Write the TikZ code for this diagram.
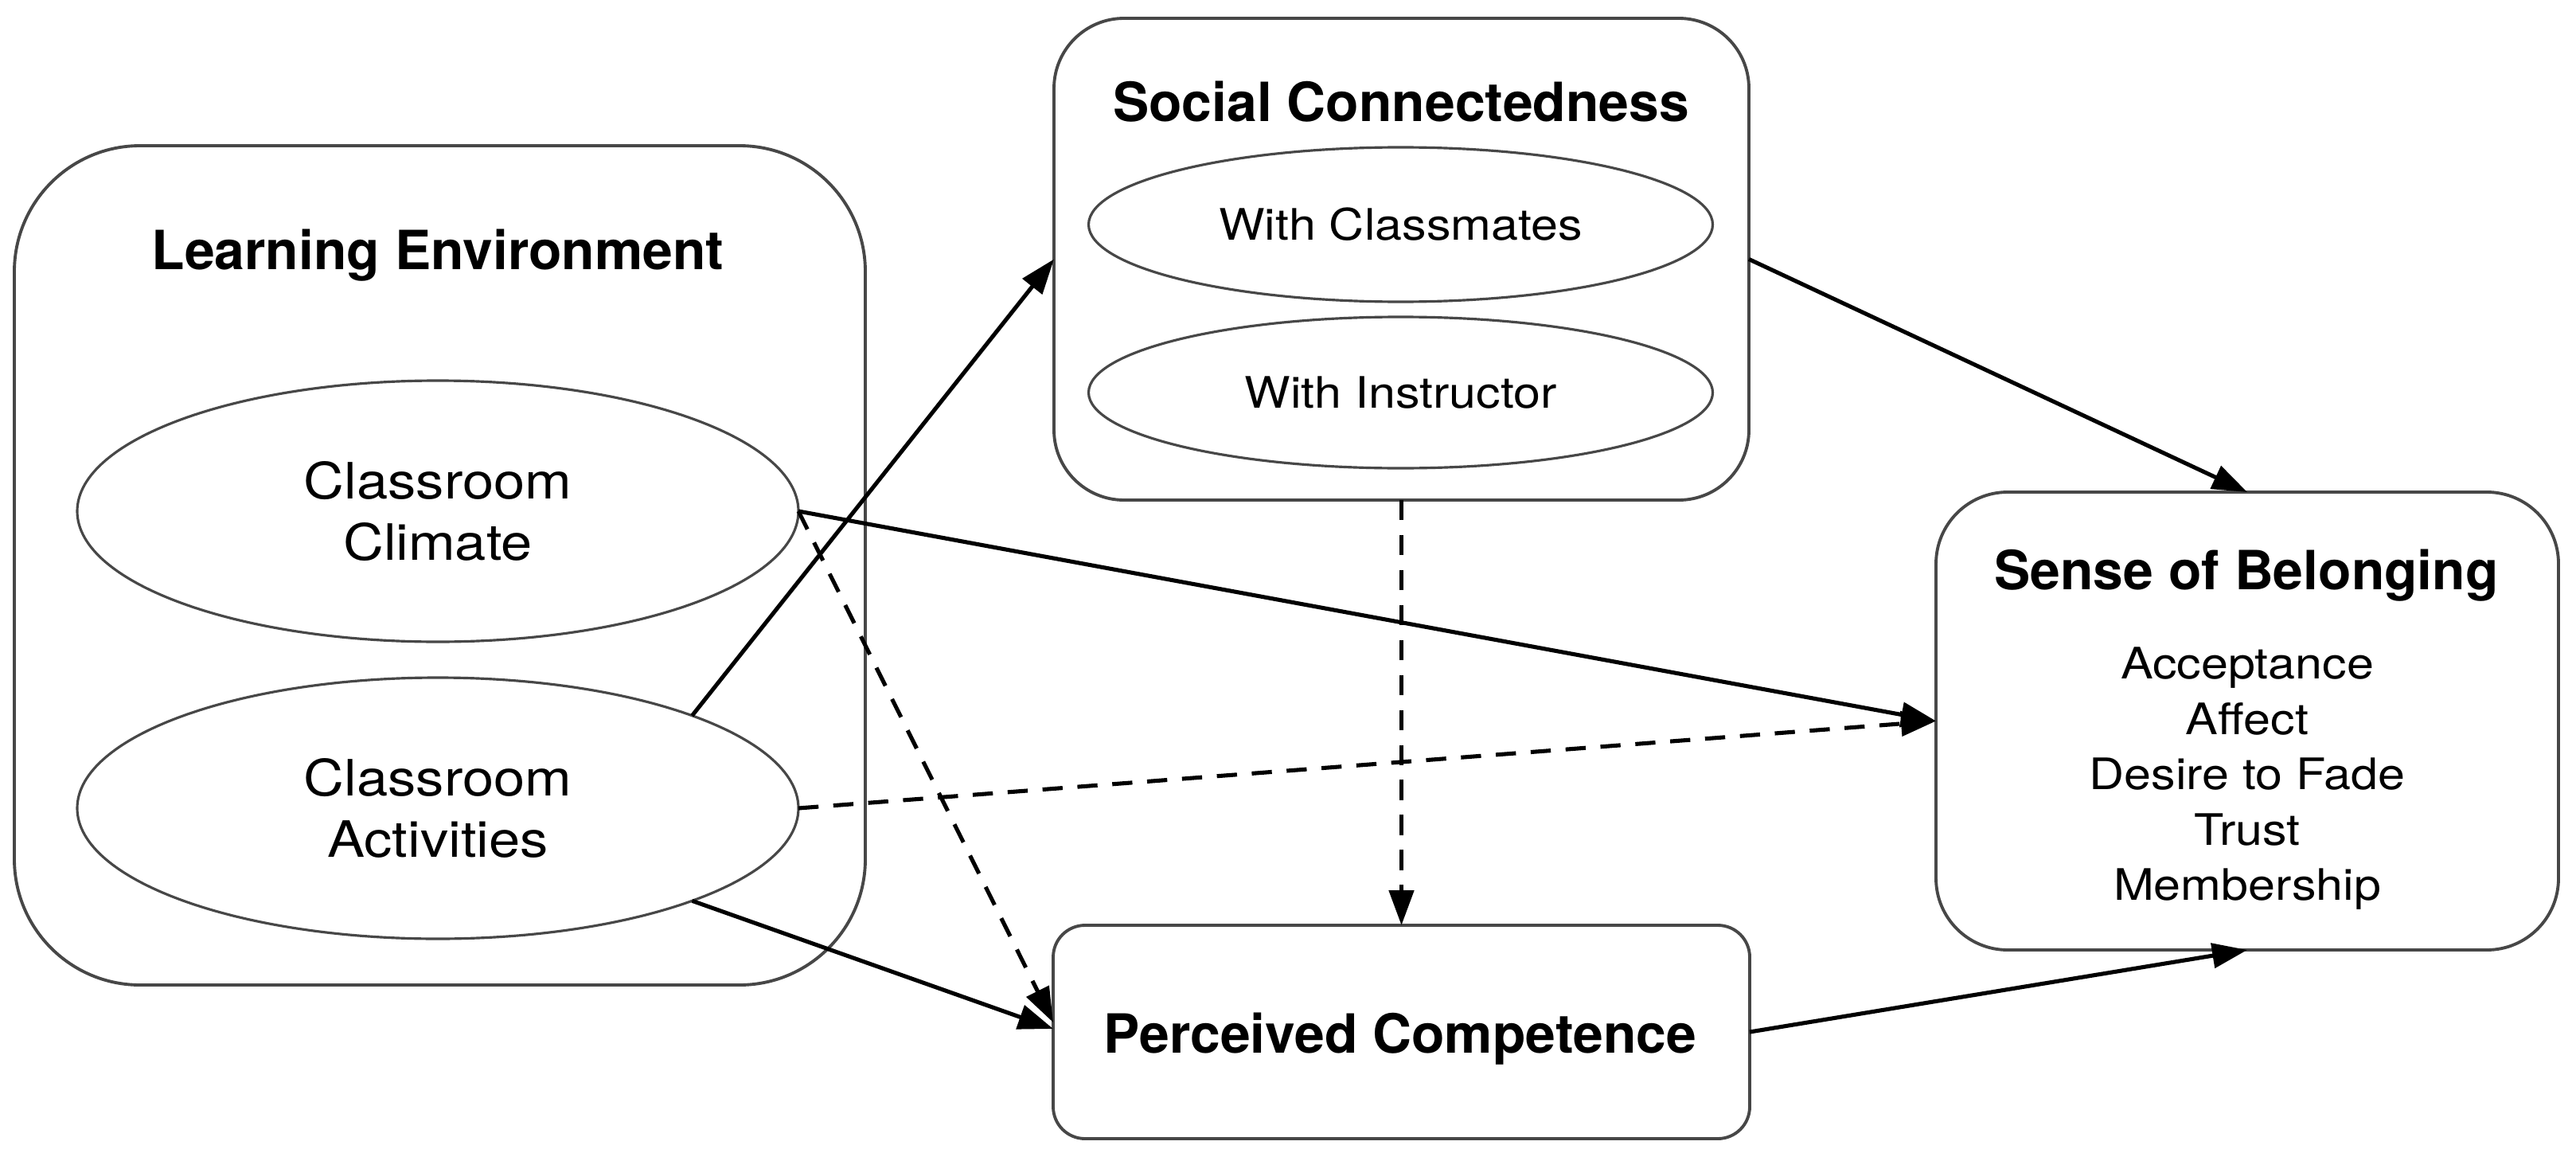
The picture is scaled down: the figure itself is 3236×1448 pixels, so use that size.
\documentclass[tikz,border=0pt]{standalone}
\usepackage{fontspec}
\setmainfont{TeX Gyre Heros}
\newfontfamily\bodyface[FakeStretch=1.12]{TeX Gyre Heros}
\usetikzlibrary{shapes.geometric,arrows.meta,calc}
\begin{document}
\begin{tikzpicture}[x=0.1mm,y=-0.1mm,
  box/.style={draw=black!72, line width=1.1pt, rectangle, inner sep=0pt, outer sep=0pt},
  oval/.style={draw=black!72, line width=0.9pt, ellipse, inner sep=0pt, outer sep=0pt, align=center},
  bigtext/.style={font=\bodyface\fontsize{17.9}{21.9}\selectfont},
  smalltext/.style={font=\bodyface\fontsize{15.5}{19.8}\selectfont},
  title/.style={font=\fontsize{19.3}{23}\selectfont\bfseries, anchor=base, inner sep=0pt},
  conn/.style={line width=1.45pt, -{Triangle[length=12.5pt,width=8.8pt]}},
  dashconn/.style={conn, dash pattern=on 7.2pt off 5.3pt},
]
\fill[white] (0,0) rectangle (3236,1448);
\useasboundingbox (0,0) rectangle (3236,1448);

% containers
\node[box, rounded corners=15.8mm, minimum width=106.9mm, minimum height=105.4mm] (le) at (552.5,710) {};
\node[box, rounded corners=8.8mm, minimum width=87.3mm, minimum height=60.5mm] (sc) at (1760.5,325.5) {};
\node[box, rounded corners=9mm, minimum width=78.2mm, minimum height=57.5mm] (sob) at (2823,905.5) {};
\node[box, rounded corners=4mm, minimum width=87.5mm, minimum height=26.8mm] (pc) at (1760.5,1296) {};

% titles
\node[title] (tle) at (550,338) {Learning Environment};
\node[title] (tsc) at (1760,153) {Social Connectedness};
\node[title] (tsob) at (2822,740) {Sense of Belonging};
\node[title] (tpc) at (1759,1322) {Perceived Competence};

% ellipses
\node[oval, bigtext, minimum width=90.6mm, minimum height=32.8mm] (climate) at (550,642) {Classroom\\Climate};
\node[oval, bigtext, minimum width=90.6mm, minimum height=32.8mm] (activities) at (550,1015) {Classroom\\Activities};
\node[oval, smalltext, minimum width=78.4mm, minimum height=19.4mm] (classmates) at (1759.5,282) {With Classmates};
\node[oval, smalltext, minimum width=78.4mm, minimum height=19mm] (instructor) at (1759.5,493) {With Instructor};

% sense of belonging list
\node[smalltext, align=center, anchor=north, inner sep=0pt] (soblist) at (2823,812)
  {Acceptance\\Affect\\Desire to Fade\\Trust\\Membership};

% connectors
\draw[conn] (activities.20) -- (sc.west);
\draw[conn] (climate.east) -- (sob.west);
\draw[dashconn] (climate.east) -- ($(pc.west)+(0,-12)$);
\draw[dashconn] (activities.east) -- (sob.west);
\draw[conn] (activities.-20) -- ($(pc.west)+(0,-4)$);
\draw[dashconn] (sc.south) -- (pc.north);
\draw[conn] (sc.east) -- (sob.north);
\draw[conn] (pc.east) -- (sob.south);
\end{tikzpicture}
\end{document}
